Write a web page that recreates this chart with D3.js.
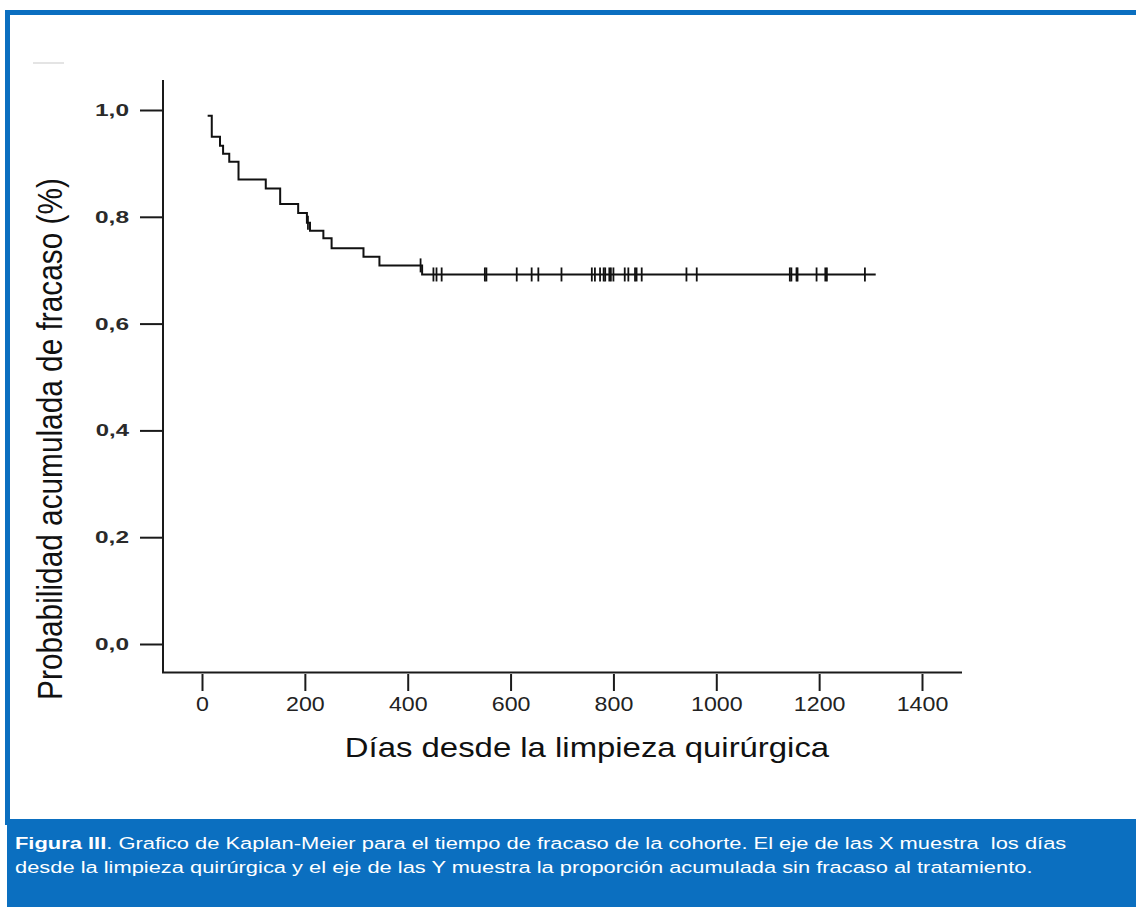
<!DOCTYPE html>
<html>
<head>
<meta charset="utf-8">
<script src="https://cdn.jsdelivr.net/npm/d3@7"></script>
<style>
  html, body { margin: 0; padding: 0; background: #fff; }
  svg { display: block; font-family: "Liberation Sans", Arial, Helvetica, sans-serif; }
</style>
</head>
<body>
<div class="viz"></div>
<script>
// Kaplan-Meier steps (first entry is where the curve starts)
var eventDays = [11, 19, 35, 41, 53, 71, 124, 152, 187, 204, 210, 236, 252, 314, 345, 428];
var survival  = [0.989, 0.950, 0.933, 0.918, 0.903, 0.870, 0.853, 0.824, 0.807, 0.789, 0.774, 0.760, 0.741, 0.725, 0.709, 0.692];
var lastDay = 1310;

// censored observations (days)
var censoredDays = [206, 425, 450, 456, 466, 550, 553, 612, 641, 654, 699,
  758, 764, 774, 781, 784, 792, 795, 800, 822, 829, 842, 845, 855,
  942, 962, 1143, 1146, 1156, 1158, 1195, 1212, 1215, 1289];

var xTicks = [0, 200, 400, 600, 800, 1000, 1200, 1400];
var yTicks = [0, 0.2, 0.4, 0.6, 0.8, 1.0];

var yTitle = 'Probabilidad acumulada de fracaso  (%)';
var xTitle = 'Días desde la limpieza quirúrgica';
var captionBold = 'Figura III';
var captionLine1 = '. Grafico de Kaplan-Meier para el tiempo de fracaso de la cohorte. El eje de las X muestra\u00a0 los días';
var captionLine2 = 'desde la limpieza quirúrgica y el eje de las Y muestra la proporción acumulada sin fracaso al tratamiento.';

var width = 1136,
    height = 907,
    blue = '#0b6fc0',
    ink = '#1a1a1a';

var svg = d3.select('.viz').append('svg')
  .attr('width', width)
  .attr('height', height);

svg.append('rect').attr('width', width).attr('height', height).attr('fill', '#fff');

/* frame */
svg.append('rect').attr('x', 5).attr('y', 10).attr('width', width - 5).attr('height', 5).attr('fill', blue);
svg.append('rect').attr('x', 5).attr('y', 10).attr('width', 5).attr('height', 815).attr('fill', blue);
svg.append('rect').attr('x', 7).attr('y', 819).attr('width', width - 7).attr('height', height - 819).attr('fill', blue);
svg.append('line').attr('x1', 33).attr('x2', 64).attr('y1', 63).attr('y2', 63)
  .attr('stroke', '#e4e4e4').attr('stroke-width', 2);

/* scales */
var x = d3.scaleLinear().domain([0, 1400]).range([202, 922]);
var y = d3.scaleLinear().domain([0, 1]).range([644, 110]);

// stretch a text horizontally so it covers a given width
function fitWidth(sel, w, ax, ay) {
  var n = sel.node().getBBox().width;
  sel.attr('transform', 'translate(' + ax + ',' + ay + ') scale(' + (w / n) + ',1) translate(' + (-ax) + ',' + (-ay) + ')');
}

/* y axis */
var yAxis = d3.axisLeft(y)
  .tickValues(yTicks)
  .tickSize(23)
  .tickPadding(11)
  .tickFormat(function(d){ return d3.format('.1f')(d).replace('.', ','); });

var gy = svg.append('g')
  .attr('transform', 'translate(163,0)')
  .call(yAxis);
gy.select('.domain').remove();
gy.selectAll('.tick line').attr('stroke', ink).attr('stroke-width', 2);
gy.selectAll('.tick text')
  .attr('fill', '#2a2a2a')
  .attr('font-size', 17)
  .attr('font-weight', 'bold')
  .attr('font-family', null)
  .each(function(){
    var n = this.getBBox().width;
    d3.select(this).attr('transform', 'translate(-34,0) scale(' + (34 / n) + ',1) translate(34,0)');
  });
svg.append('line')
  .attr('x1', 163).attr('x2', 163)
  .attr('y1', 80).attr('y2', 673)
  .attr('stroke', ink).attr('stroke-width', 2);

/* x axis */
var xAxis = d3.axisBottom(x)
  .tickValues(xTicks)
  .tickSize(17)
  .tickPadding(4)
  .tickFormat(d3.format('d'));

var gx = svg.append('g')
  .attr('transform', 'translate(0,674)')
  .call(xAxis);
gx.select('.domain').remove();
gx.selectAll('.tick line').attr('stroke', ink).attr('stroke-width', 2);
gx.selectAll('.tick text')
  .attr('fill', '#222')
  .attr('font-size', 20)
  .attr('font-family', null)
  .attr('dy', null)
  .attr('y', 37)
  .attr('transform', 'scale(1.16,1)');
svg.append('line')
  .attr('x1', 162).attr('x2', 962)
  .attr('y1', 672.5).attr('y2', 672.5)
  .attr('stroke', ink).attr('stroke-width', 2);

/* survival curve */
var path = d3.path();
path.moveTo(x(eventDays[0]), y(survival[0]));
for (var i = 1; i < eventDays.length; i++) {
  path.lineTo(x(eventDays[i]), y(survival[i - 1]));
  path.lineTo(x(eventDays[i]), y(survival[i]));
}
path.lineTo(x(lastDay), y(survival[survival.length - 1]));

svg.append('path')
  .attr('d', path.toString())
  .attr('fill', 'none')
  .attr('stroke', '#111')
  .attr('stroke-width', 2);

function survivalAt(day) {
  var s = survival[0];
  eventDays.forEach(function(d, i){ if (d <= day) s = survival[i]; });
  return s;
}

svg.append('g').selectAll('line')
  .data(censoredDays)
  .enter()
  .append('line')
  .attr('x1', function(d){ return x(d); })
  .attr('x2', function(d){ return x(d); })
  .attr('y1', function(d){ return y(survivalAt(d)) - 7; })
  .attr('y2', function(d){ return y(survivalAt(d)) + 7; })
  .attr('stroke', '#111')
  .attr('stroke-width', 1.8);

/* axis titles */
var xt = svg.append('text')
  .attr('x', 587).attr('y', 757)
  .attr('text-anchor', 'middle')
  .attr('font-size', 28)
  .attr('fill', '#111')
  .text(xTitle);
fitWidth(xt, 485, 587, 757);

var yt = svg.append('text')
  .attr('text-anchor', 'middle')
  .attr('font-size', 29)
  .attr('fill', '#111')
  .text(yTitle);
var yLen = yt.node().getBBox().width;
yt.attr('transform', 'translate(62,439) scale(1.2,' + (522 / yLen) + ') rotate(-90)');

/* caption */
var cap1 = svg.append('text')
  .attr('x', 15).attr('y', 849)
  .attr('font-size', 17)
  .attr('fill', '#fff');
cap1.append('tspan').attr('font-weight', 'bold').text(captionBold);
cap1.append('tspan').text(captionLine1);
fitWidth(cap1, 1052, 15, 849);

var cap2 = svg.append('text')
  .attr('x', 15).attr('y', 873)
  .attr('font-size', 17)
  .attr('fill', '#fff')
  .text(captionLine2);
fitWidth(cap2, 1018, 15, 873);
</script>
</body>
</html>
